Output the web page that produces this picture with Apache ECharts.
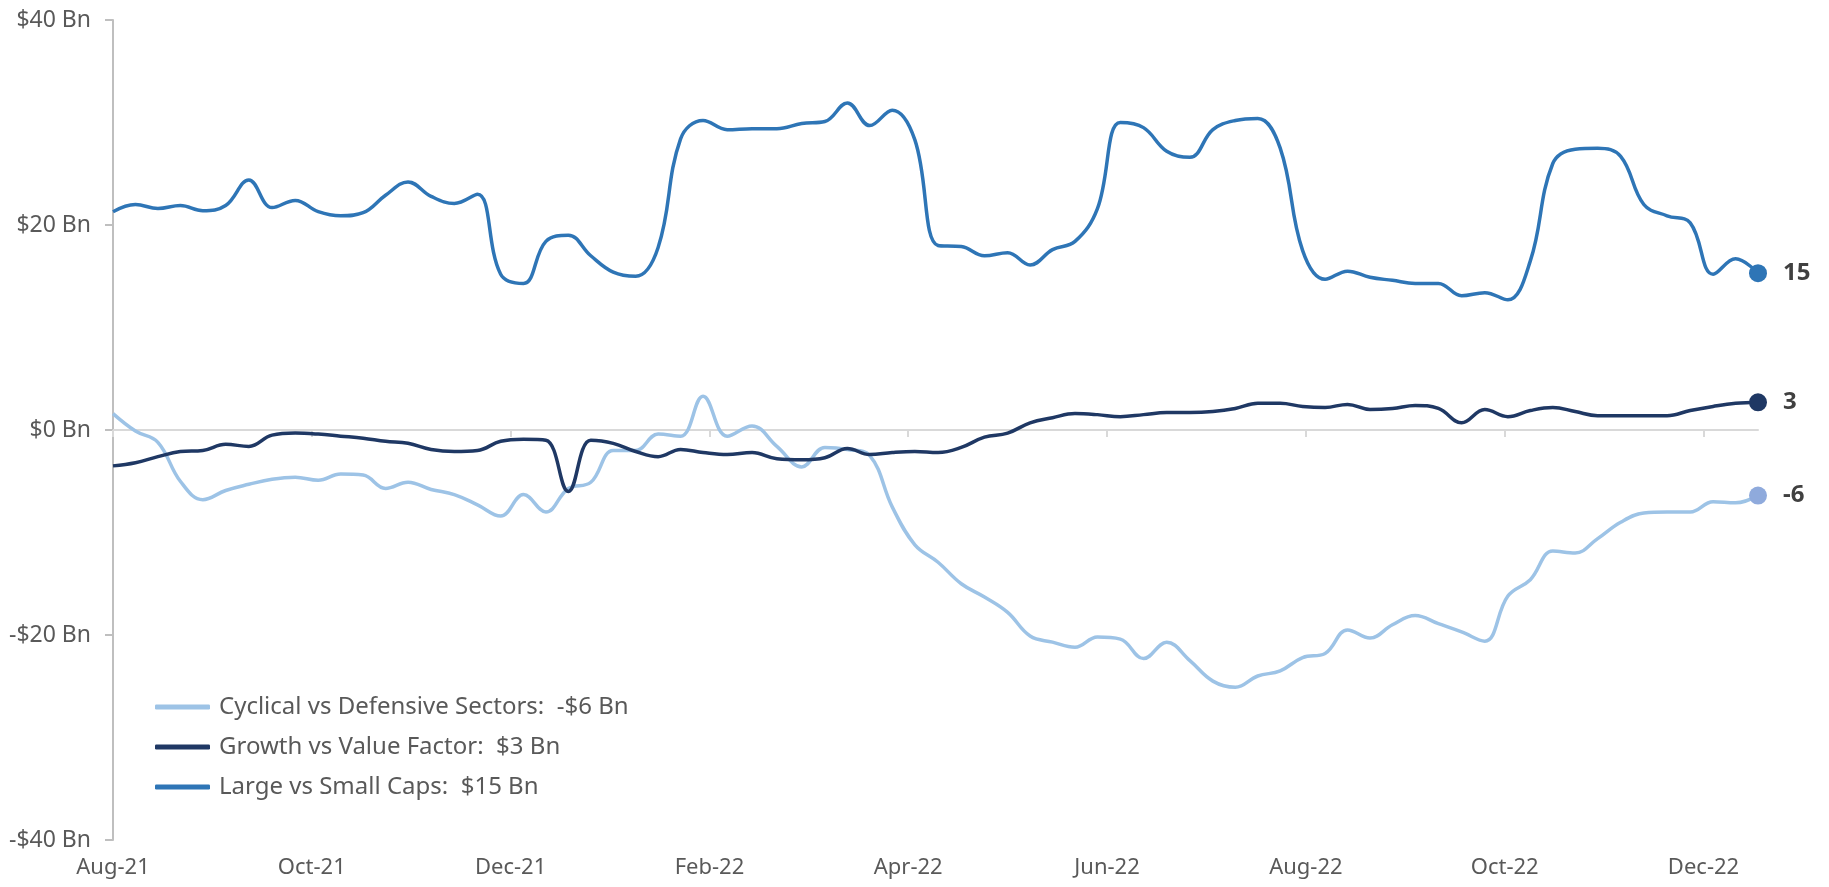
<!DOCTYPE html>
<html>
<head>
<meta charset="utf-8">
<script src="https://cdn.jsdelivr.net/npm/echarts@6/dist/echarts.min.js"></script>
<style>
  html, body { margin: 0; padding: 0; background: #fff; }
  #chart { width: 1829px; height: 887px; }
</style>
</head>
<body>
<div id="chart"></div>
<script>
// weekly dates
const dates = [
  '2021-08-01','2021-08-08','2021-08-15','2021-08-22','2021-08-29','2021-09-05','2021-09-12','2021-09-19','2021-09-26',
  '2021-10-03','2021-10-10','2021-10-17','2021-10-24','2021-10-31','2021-11-07','2021-11-14','2021-11-21','2021-11-28',
  '2021-12-05','2021-12-12','2021-12-19','2021-12-26',
  '2022-01-02','2022-01-09','2022-01-16','2022-01-23','2022-01-30','2022-02-06','2022-02-13','2022-02-20','2022-02-27',
  '2022-03-06','2022-03-13','2022-03-20','2022-03-27','2022-04-03','2022-04-10','2022-04-17','2022-04-24',
  '2022-05-01','2022-05-08','2022-05-15','2022-05-22','2022-05-29','2022-06-05','2022-06-12','2022-06-19','2022-06-26',
  '2022-07-03','2022-07-10','2022-07-17','2022-07-24','2022-07-31','2022-08-07','2022-08-14','2022-08-21','2022-08-28',
  '2022-09-04','2022-09-11','2022-09-18','2022-09-25','2022-10-02','2022-10-09','2022-10-16','2022-10-23','2022-10-30',
  '2022-11-06','2022-11-13','2022-11-20','2022-11-27','2022-12-04','2022-12-11','2022-12-18'
];

// $ Bn
const cyclical = [
  1.6, -0.1, -1.2, -5.0, -6.8, -5.9, -5.3, -4.8, -4.6, -4.9, -4.3, -4.4, -5.7, -5.1, -5.8, -6.3, -7.3, -8.4, -6.3, -8.0,
  -5.7, -5.1, -2.0, -2.0, -0.4, -0.6, 3.3, -0.6, 0.4, -1.6, -3.6, -1.7, -1.9, -2.5, -7.5, -11.2, -12.9, -15.0, -16.3, -17.8,
  -20.1, -20.7, -21.2, -20.2, -20.4, -22.3, -20.7, -22.5, -24.5, -25.1, -24.0, -23.5, -22.2, -21.8, -19.5, -20.3, -19.0, -18.1, -18.9, -19.7,
  -20.6, -16.2, -14.6, -11.8, -12.0, -10.6, -9.0, -8.1, -8.0, -8.0, -7.0, -7.1, -6.4
];
const growth = [
  -3.5, -3.2, -2.6, -2.1, -2.0, -1.4, -1.6, -0.5, -0.3, -0.4, -0.6, -0.8, -1.1, -1.3, -1.9, -2.1, -2.0, -1.1, -0.9, -1.0,
  -6.0, -1.0, -1.3, -2.1, -2.6, -1.9, -2.2, -2.4, -2.2, -2.8, -2.9, -2.7, -1.8, -2.4, -2.2, -2.1, -2.2, -1.7, -0.7, -0.3,
  0.7, 1.2, 1.6, 1.5, 1.3, 1.5, 1.7, 1.7, 1.8, 2.1, 2.6, 2.6, 2.3, 2.2, 2.5, 2.0, 2.1, 2.4, 2.1, 0.7,
  2.0, 1.3, 1.9, 2.2, 1.8, 1.4, 1.4, 1.4, 1.4, 1.9, 2.3, 2.6, 2.7
];
const largeSmall = [
  21.3, 22.0, 21.6, 21.9, 21.4, 21.9, 24.4, 21.7, 22.4, 21.3, 20.9, 21.2, 22.9, 24.2, 22.8, 22.1, 23.0, 15.2, 14.3, 18.4,
  19.0, 17.0, 15.4, 15.0, 17.8, 28.4, 30.2, 29.3, 29.4, 29.4, 29.9, 30.1, 31.9, 29.7, 31.2, 28.3, 18.0, 17.9, 17.0, 17.3,
  16.1, 17.6, 18.4, 21.6, 30.0, 29.5, 27.2, 26.6, 29.3, 30.2, 30.4, 27.5, 17.5, 14.7, 15.5, 14.9, 14.6, 14.3, 14.3, 13.1,
  13.4, 12.7, 16.5, 26.0, 27.4, 27.5, 26.7, 22.0, 20.9, 20.2, 15.2, 16.7, 15.3
];

const xTickLabels = ['Aug-21','Oct-21','Dec-21','Feb-22','Apr-22','Jun-22','Aug-22','Oct-22','Dec-22'];
const yTicks = [-40, -20, 0, 20, 40];

const seriesNames = ['Cyclical vs Defensive Sectors', 'Growth vs Value Factor', 'Large vs Small Caps'];
const seriesColors = ['#9DC3E6', '#1F3864', '#2E75B6'];
const dotColors = ['#8FAADC', '#1F3864', '#2E75B6'];

const FONT = 'Noto Sans';

// months since Aug-21
function monthOffset(s) {
  const [y, m, d] = s.split('-').map(Number);
  const dim = new Date(y, m, 0).getDate();
  return (y - 2021) * 12 + (m - 8) + (d - 1) / dim;
}
const xs = dates.map(monthOffset);
const xMax = xs[xs.length - 1];
const tickPos = xTickLabels.map((t, i) => i * 2);

function fmtBn(v) {
  return (v < 0 ? '-$' : '$') + Math.abs(v) + ' Bn';
}

const chart = echarts.init(document.getElementById('chart'));

const allData = [cyclical, growth, largeSmall];
const series = allData.map((vals, i) => {
  const last = vals[vals.length - 1];
  return {
    name: seriesNames[i] + ':  ' + fmtBn(Math.round(last)),
    type: 'line',
    xAxisIndex: 0,
    data: vals.map((v, j) => [xs[j], v]),
    smooth: 0.4,
    showSymbol: false,
    lineStyle: { width: 3.5, color: seriesColors[i] },
    itemStyle: { color: seriesColors[i] },
    markPoint: {
      symbol: 'circle',
      symbolSize: 18,
      data: [{ coord: [xs[xs.length - 1], last], value: Math.round(last) }],
      itemStyle: { color: dotColors[i] },
      label: {
        show: true,
        position: 'right',
        distance: 16,
        color: '#404040',
        fontSize: 24,
        fontWeight: 'bold',
        fontFamily: FONT
      }
    }
  };
});

const option = {
  animation: false,
  textStyle: { fontFamily: FONT },
  grid: { left: 113, right: 71, top: 20, bottom: 47 },
  legend: {
    orient: 'vertical',
    left: 150,
    top: 690,
    itemWidth: 55,
    itemHeight: 5,
    itemGap: 16,
    icon: 'roundRect',
    textStyle: { color: '#595959', fontSize: 24, fontFamily: FONT, padding: [0, 0, 0, 4] },
    data: series.map(s => s.name)
  },
  xAxis: [
    {
      type: 'value',
      position: 'bottom',
      min: 0,
      max: xMax,
      axisLine: { show: false, onZero: false },
      axisTick: { show: false },
      splitLine: { show: false },
      axisLabel: {
        customValues: tickPos,
        color: '#595959',
        fontSize: 22,
        margin: 17,
        formatter: v => xTickLabels[Math.round(v / 2)]
      }
    },
    {
      type: 'value',
      position: 'bottom',
      min: 0,
      max: xMax,
      axisLine: { show: true, onZero: true, lineStyle: { color: '#D9D9D9', width: 2 } },
      axisTick: { show: true, customValues: tickPos, length: 7, lineStyle: { color: '#D9D9D9', width: 2 } },
      axisLabel: { show: false },
      splitLine: { show: false }
    }
  ],
  yAxis: {
    type: 'value',
    min: yTicks[0],
    max: yTicks[yTicks.length - 1],
    interval: 20,
    axisLine: { show: true, lineStyle: { color: '#BFBFBF', width: 2 } },
    axisTick: { show: true, length: 8, lineStyle: { color: '#BFBFBF', width: 2 } },
    splitLine: { show: false },
    axisLabel: { color: '#595959', fontSize: 23, margin: 22, formatter: fmtBn }
  },
  series: series
};

chart.setOption(option);
</script>
</body>
</html>
